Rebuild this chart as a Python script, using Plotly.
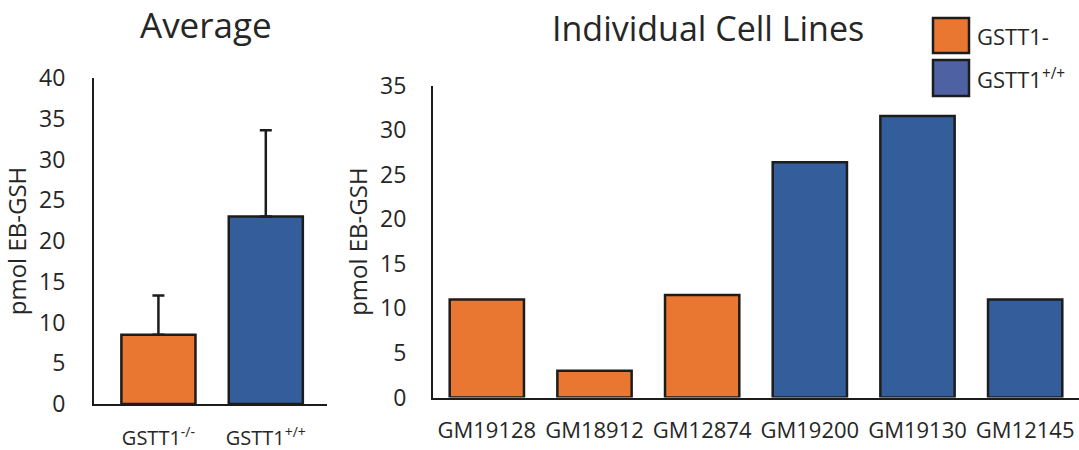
import plotly.graph_objects as go

# Average EB-GSH per genotype, with upper error bars
avg_labels = ["GSTT1<sup>-/-</sup>", "GSTT1<sup>+/+</sup>"]
avg_values = [8.5, 23.0]
avg_errors = [4.8, 10.6]

# Individual lymphoblastoid cell lines
cell_lines = ["GM19128", "GM18912", "GM12874", "GM19200", "GM19130", "GM12145"]
cell_values = [11.0, 3.0, 11.5, 26.4, 31.6, 11.0]
cell_genotype = ["null", "null", "null", "wt", "wt", "wt"]

ORANGE = "#E97631"
BLUE = "#345E9B"
LEGEND_BLUE = "#4E61A3"
EDGE = "#1c1c1c"
TEXT = "#262626"
FONT = "Open Sans"

W, H = 1079, 450


def px_x(x):
    return x / W


def px_y(y):
    return 1 - y / H


fig = go.Figure()

fig.add_trace(go.Bar(
    x=avg_labels, y=avg_values,
    marker=dict(color=[ORANGE, BLUE], line=dict(color=EDGE, width=2.5)),
    error_y=dict(type="data", array=avg_errors, arrayminus=[0, 0], symmetric=False,
                 color=EDGE, thickness=2.5, width=6),
    xaxis="x", yaxis="y", showlegend=False,
))

fig.add_trace(go.Bar(
    x=cell_lines, y=cell_values,
    marker=dict(color=[ORANGE if g == "null" else BLUE for g in cell_genotype],
                line=dict(color=EDGE, width=2.5)),
    xaxis="x2", yaxis="y2", showlegend=False,
))

axis_common = dict(showgrid=False, zeroline=False, showline=True, linecolor=EDGE,
                   linewidth=2, ticks="", fixedrange=True, automargin=False)

fig.update_layout(
    width=W, height=H,
    margin=dict(l=0, r=0, t=0, b=0, autoexpand=False),
    paper_bgcolor="white", plot_bgcolor="white",
    font=dict(family=FONT, color=TEXT),
    bargap=0.31,
    xaxis=dict(**axis_common, domain=[px_x(94), px_x(327)], range=[-0.6, 1.57],
               tickfont=dict(size=20), ticklabelstandoff=15, anchor="y"),
    yaxis=dict(**axis_common, domain=[px_y(404), px_y(78)], range=[0, 40], dtick=5,
               tickfont=dict(size=23), ticklabelstandoff=22, anchor="x",
               title=dict(text="pmol EB-GSH", font=dict(size=24), standoff=10)),
    xaxis2=dict(**axis_common, domain=[px_x(433), 1.0], range=[-0.5, 5.5],
                tickfont=dict(size=22), ticklabelstandoff=12, anchor="y2"),
    yaxis2=dict(**axis_common, domain=[px_y(397.5), px_y(85.7)], range=[0, 35], dtick=5,
                tickfont=dict(size=23), ticklabelstandoff=20, anchor="x2",
                title=dict(text="pmol EB-GSH", font=dict(size=24), standoff=6)),
)

# Panel titles
fig.add_annotation(text="Average", x=px_x(206), y=px_y(24), xref="paper", yref="paper",
                   xanchor="center", yanchor="middle", showarrow=False,
                   font=dict(size=35, color=TEXT))
fig.add_annotation(text="Individual Cell Lines", x=px_x(708), y=px_y(28), xref="paper",
                   yref="paper", xanchor="center", yanchor="middle", showarrow=False,
                   font=dict(size=34, color=TEXT))

# Legend swatches and labels
legend_items = [("GSTT1-", ORANGE, 18, 53), ("GSTT1<sup>+/+</sup>", LEGEND_BLUE, 60, 96)]
for label, color, y0, y1 in legend_items:
    fig.add_shape(type="rect", xref="paper", yref="paper",
                  x0=px_x(933), x1=px_x(969), y0=px_y(y1), y1=px_y(y0),
                  fillcolor=color, line=dict(color=EDGE, width=2.5))
    fig.add_annotation(text=label, x=px_x(975), y=px_y((y0 + y1) / 2), xref="paper",
                       yref="paper", xanchor="left", yanchor="middle", showarrow=False,
                       font=dict(size=22, color=TEXT))

fig.write_html("out.html")
